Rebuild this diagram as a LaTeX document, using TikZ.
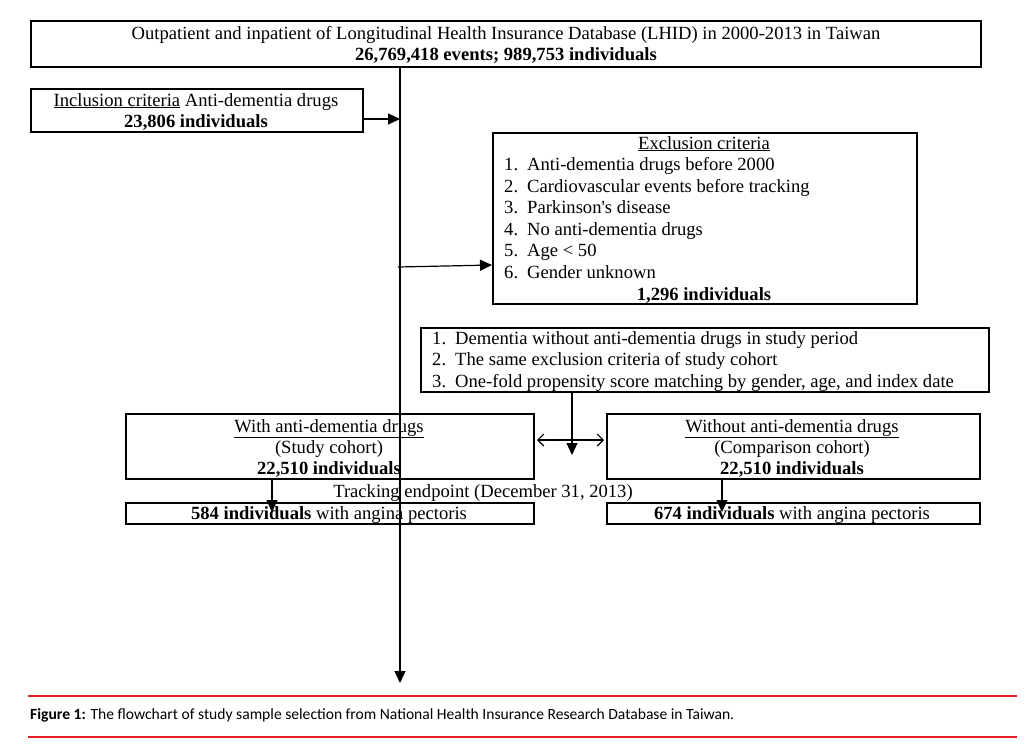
\documentclass[tikz,border=0pt]{standalone}
\usepackage{fontspec}
\setmainfont{Liberation Serif}
\newfontfamily\rawserif{Liberation Serif}
\newfontfamily\capfont{Carlito}
\usetikzlibrary{arrows.meta}
\definecolor{capred}{RGB}{230,30,40}
\begin{document}
\begin{tikzpicture}[x=1pt,y=-1pt,
  box/.style={draw,line width=1.6pt,minimum width=#1,inner sep=0pt,anchor=north west},
  txt/.style={inner sep=0pt,anchor=base,font=\fontsize{18.6}{21}\selectfont},
  ltxt/.style={txt,anchor=base west},
  ln/.style={line width=1.2pt},
  arr/.style={ln,-{Triangle[length=12pt,width=11pt]}},
  barbtip/.tip={Straight Barb[length=6pt,width=12pt,line width=1.2pt]}]
\useasboundingbox (0,0) rectangle (1025,745);
% boxes
\node[box=950pt,minimum height=46pt] (top) at (30,20) {};
\node[box=332pt,minimum height=43pt] (incl) at (30,88) {};
\node[box=424pt,minimum height=171pt] (excl) at (492,132) {};
\node[box=568pt,minimum height=64pt] (match) at (420,327) {};
\node[box=408pt,minimum height=65pt] (study) at (125,413) {};
\node[box=373pt,minimum height=65pt] (comp) at (606,413) {};
\node[box=408pt,minimum height=21pt] (sres) at (125,502) {};
\node[box=373pt,minimum height=21pt] (cres) at (606,502) {};
% texts
\node[txt] (t1) at (506,39) {Outpatient and inpatient of Longitudinal Health Insurance Database (LHID) in 2000-2013 in Taiwan};
\node[txt] (t2) at (506,60) {\bfseries 26,769,418 events; 989,753 individuals};
\node[txt] (i1) at (196,106) {\underline{Inclusion criteria} Anti-dementia drugs};
\node[txt] (i2) at (196,127) {\bfseries 23,806 individuals};
\node[txt] (e0) at (704,149) {\underline{Exclusion criteria}};
\foreach \t [count=\k] in {Anti-dementia drugs before 2000,Cardiovascular events before tracking,Parkinson{\rawserif '}s disease,No anti-dementia drugs,Age < 50,Gender unknown}{
  \node[ltxt] (e\k) at (504,{149+21.5*\k}) {\makebox[23pt][l]{\k.}\t};
}
\node[txt] (e7) at (704,300) {\bfseries 1,296 individuals};
\foreach \t [count=\k] in {Dementia without anti-dementia drugs in study period,The same exclusion criteria of study cohort,One-fold propensity score matching by gender{,} age{,} and index date}{
  \node[ltxt] (m\k) at (432,{322.5+21.5*\k}) {\makebox[23pt][l]{\k.}\t};
}
\node[txt] (s1) at (329,432) {\underline{With anti-dementia drugs}};
\node[txt] (s2) at (329,453) {(Study cohort)};
\node[txt] (s3) at (329,474) {\bfseries 22,510 individuals};
\node[txt] (c1) at (792,432) {\underline{Without anti-dementia drugs}};
\node[txt] (c2) at (792,453) {(Comparison cohort)};
\node[txt] (c3) at (792,474) {\bfseries 22,510 individuals};
\node[txt] (track) at (483,497) {Tracking endpoint (December 31, 2013)};
\node[txt] (sr) at (329,519) {\textbf{584 individuals} with angina pectoris};
\node[txt] (cr) at (792,519) {\textbf{674 individuals} with angina pectoris};
% connectors
\coordinate (vtop) at (400,66);
\coordinate (vend) at (400,683);
\coordinate (vin) at (400,119);
\coordinate (vex) at (398,267);
\coordinate (mid) at (572,455);
\coordinate (sa) at (272,512);
\coordinate (ca) at (722,512);
\coordinate (dl) at (537,440);
\coordinate (dr) at (604,440);
\draw[arr] (vtop) -- (vend);
\draw[arr] (incl.east |- vin) -- (vin);
\draw[arr] (vex) -- (excl.west |- 0,265);
\draw[arr] (match.south -| mid) -- (mid);
\draw[ln,barbtip-barbtip] (dl) -- (dr);
\draw[arr] (study.south -| sa) -- (sa);
\draw[arr] (comp.south -| ca) -- (ca);
% caption
\draw[capred,line width=1.8pt] (28,696) -- (1017,696);
\draw[capred,line width=1.8pt] (28,737) -- (1017,737);
\node[inner sep=0pt,anchor=west,font=\capfont\fontsize{15.6}{18}\selectfont] (cap) at (30,715) {\textbf{Figure 1:} The flowchart of study sample selection from National Health Insurance Research Database in Taiwan.};
\end{tikzpicture}
\end{document}
